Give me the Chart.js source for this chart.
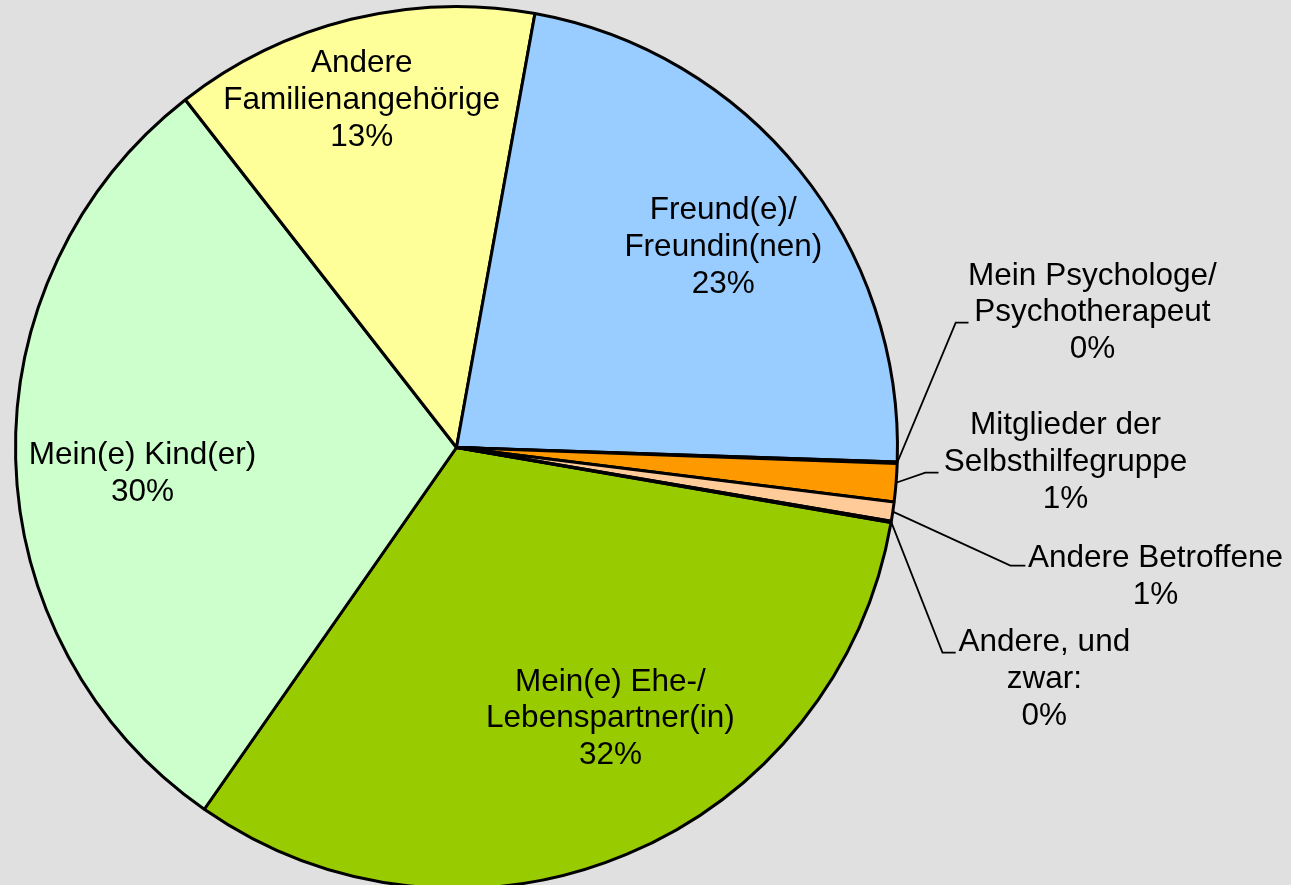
<!DOCTYPE html>
<html>
<head>
<meta charset="utf-8">
<script src="https://cdn.jsdelivr.net/npm/chart.js@4"></script>
<style>
  html, body { margin: 0; padding: 0; background: #E0E0E0; overflow: hidden; }
  #wrap { width: 1291px; height: 891px; }
</style>
</head>
<body>
<div id="wrap"><canvas id="c" width="1291" height="891"></canvas></div>
<script>
// ---- data ----
const categories = [
  ["Mein(e) Ehe-/", "Lebenspartner(in)"],
  ["Mein(e) Kind(er)"],
  ["Andere", "Familienangehörige"],
  ["Freund(e)/", "Freundin(nen)"],
  ["Mein Psychologe/", "Psychotherapeut"],
  ["Mitglieder der", "Selbsthilfegruppe"],
  ["Andere Betroffene"],
  ["Andere, und", "zwar:"]
];
const values = [32.0, 29.8, 13.4, 22.7, 0.05, 1.4, 0.7, 0.05];
const colors = ["#99CC00", "#CCFFCC", "#FFFF99", "#99CCFF", "#FFFFFF", "#FF9900", "#FFCC99", "#FFFFFF"];

// ---- label layout (relative to pie centre, in units of radius) ----
const labelPos = [
  [0.349, 0.615], [-0.712, 0.060], [-0.215, -0.787], [0.605, -0.454],
  [1.442, -0.306], [1.381, 0.034], [1.585, 0.293], [1.333, 0.526]
];
// leader lines: [elbowX, elbowY, endX] or null
const leaders = [
  null, null, null, null,
  [1.132, -0.283, 1.161],
  [1.063, 0.057, 1.093],
  [1.256, 0.268, 1.290],
  [1.102, 0.465, 1.132]
];

const total = values.reduce((a, b) => a + b, 0);

const labelPlugin = {
  id: 'pieLabels',
  afterDatasetsDraw(chart) {
    const ctx = chart.ctx;
    const meta = chart.getDatasetMeta(0);
    ctx.save();
    meta.data.forEach((arc, i) => {
      const cx = arc.x, cy = arc.y, r = arc.outerRadius;
      const ld = leaders[i];
      if (ld) {
        const mid = (arc.startAngle + arc.endAngle) / 2;
        const sx = cx + Math.cos(mid) * r;
        const sy = cy + Math.sin(mid) * r;
        ctx.beginPath();
        ctx.moveTo(sx, sy);
        ctx.lineTo(cx + ld[0] * r, cy + ld[1] * r);
        ctx.lineTo(cx + ld[2] * r, cy + ld[1] * r);
        ctx.strokeStyle = '#000';
        ctx.lineWidth = 1.8;
        ctx.stroke();
      }
      const pct = Math.round(values[i] / total * 100) + '%';
      const lines = categories[i].concat([pct]);
      const lh = 36.7;
      const bx = cx + labelPos[i][0] * r;
      const by = cy + labelPos[i][1] * r;
      ctx.fillStyle = '#000';
      ctx.font = '31.5px "Liberation Sans", Arial, sans-serif';
      ctx.textAlign = 'center';
      ctx.textBaseline = 'middle';
      const y0 = by - (lines.length - 1) * lh / 2;
      lines.forEach((t, k) => ctx.fillText(t, bx, y0 + k * lh));
    });
    ctx.restore();
  }
};

new Chart(document.getElementById('c'), {
  type: 'pie',
  data: {
    labels: categories.map(c => c.join(' ')),
    datasets: [{
      data: values,
      backgroundColor: colors,
      borderColor: '#000000',
      borderWidth: 3
    }]
  },
  options: {
    responsive: false,
    animation: false,
    rotation: 99.8,
    layout: { padding: { top: 5, left: 14, right: 392, bottom: 1 } },
    plugins: { legend: { display: false }, tooltip: { enabled: false } }
  },
  plugins: [labelPlugin]
});
</script>
</body>
</html>
